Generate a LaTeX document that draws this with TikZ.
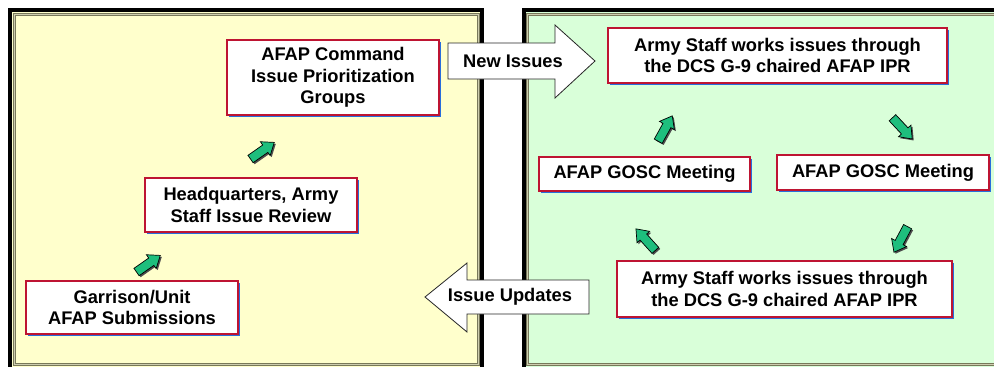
\documentclass[tikz,border=0pt]{standalone}
\usepackage{fontspec}
\setmainfont{Liberation Sans}
\usetikzlibrary{shadows}
\definecolor{panelyellow}{RGB}{255,255,204}
\definecolor{panelgreen}{RGB}{217,255,217}
\definecolor{boxred}{RGB}{190,20,50}
\definecolor{shadowblue}{RGB}{40,110,220}
\definecolor{agreen}{RGB}{30,190,125}
\definecolor{frameolive}{RGB}{120,120,90}
\definecolor{framelight}{RGB}{205,205,175}
\tikzset{
  box/.style={draw=boxred, line width=1.4pt, fill=white, align=center,
    font=\fontsize{18.3}{21.5}\selectfont\bfseries, inner sep=2pt,
    drop shadow={shadow xshift=1.6pt, shadow yshift=-1.6pt, fill=shadowblue, opacity=1}},
  biglabel/.style={font=\fontsize{18.3}{21.5}\selectfont\bfseries, inner sep=0pt},
  bigarrow/.style={draw=black!85, line width=0.8pt, fill=white},
  outerframe/.style={draw=black, line width=4pt},
  innerframe/.style={draw=frameolive, line width=1pt, double=framelight, double distance=1pt},
  garrowshape/.pic={\path[pic actions] (-14,-4.5) -- (4,-4.5) -- (4,-8.5) -- (15,0) -- (4,8.5) -- (4,4.5) -- (-14,4.5) -- cycle;},
  gshadow/.style={fill=black!70},
  gbody/.style={draw=black, fill=agreen, line width=0.7pt}
}
\begin{document}
\begin{tikzpicture}[x=1pt,y=-1pt]
\useasboundingbox (0,0) rectangle (994,367);
\clip (0,0) rectangle (994,367);
% panels
\fill[panelyellow] (10,10) rectangle (482,372);
\draw[outerframe] (10,10) rectangle (482,371);
\draw[innerframe] (14.5,14.5) rectangle (478.5,364);
\fill[panelgreen] (524,10) rectangle (1010,372);
\draw[outerframe] (524,10) rectangle (1010,371);
\draw[innerframe] (527.5,14.5) rectangle (1005,364);
% boxes
\node[box, minimum width=212pt, minimum height=53pt] (a) at (132,307.5) {Garrison/Unit\\AFAP Submissions};
\node[box, minimum width=212pt, minimum height=54pt] (b) at (251,205) {Headquarters, Army\\Staff Issue Review};
\node[box, minimum width=212pt, minimum height=75pt] (c) at (333,77.5) {AFAP Command\\Issue Prioritization\\Groups};
\node[box, minimum width=339pt, minimum height=55pt] (d) at (777.5,55.5) {Army Staff works issues through\\the DCS G-9 chaired AFAP IPR};
\node[box, minimum width=211pt, minimum height=34pt] (e) at (644.5,174) {AFAP GOSC Meeting};
\node[box, minimum width=212pt, minimum height=35pt] (f) at (883,172.5) {AFAP GOSC Meeting};
\node[box, minimum width=335pt, minimum height=56pt] (g) at (784.5,289) {Army Staff works issues through\\the DCS G-9 chaired AFAP IPR};
% big white arrows
\draw[bigarrow] (448,43) -- (555,43) -- (555,25) -- (595,61) -- (555,98) -- (555,79) -- (448,79) -- cycle;
\node[biglabel] (newissues) at (513,61) {New Issues};
\draw[bigarrow] (589,280) -- (467,280) -- (467,263) -- (425,297) -- (467,332) -- (467,314) -- (589,314) -- cycle;
\node[biglabel] (updates) at (510,297) {Issue Updates};
% green arrows
\foreach \px/\py/\ang in {148/264/35, 262/151/35, 665/129/61, 902/128/-47, 901/239/-118, 646/240/132} {
  \pic[gshadow, rotate=\ang] at (\px+1.5,\py+1.5) {garrowshape};
  \pic[gbody, rotate=\ang] at (\px,\py) {garrowshape};
}
\end{tikzpicture}
\end{document}
